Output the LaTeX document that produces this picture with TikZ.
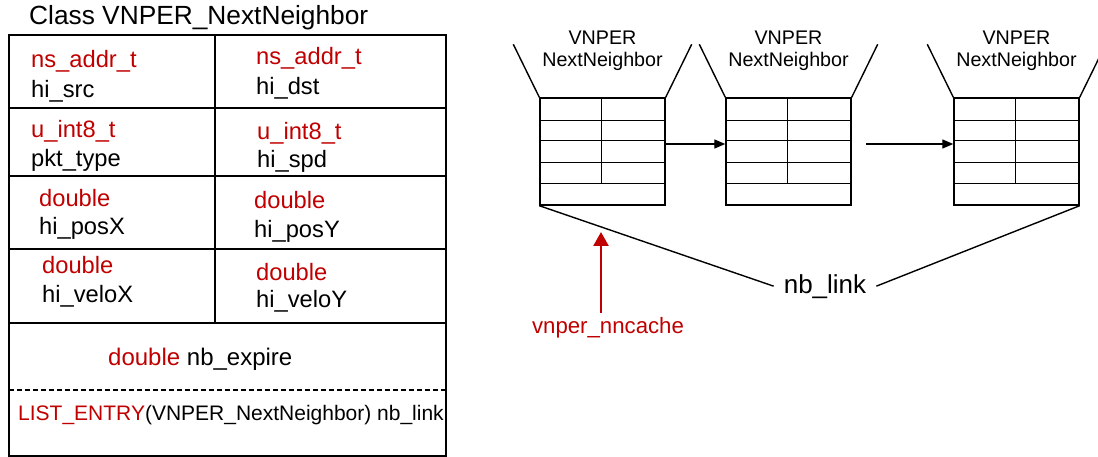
\documentclass[tikz,border=0pt]{standalone}
\usepackage{fontspec}
\setmainfont{Liberation Sans}
\usetikzlibrary{arrows.meta}
\definecolor{typered}{RGB}{192,0,0}
\begin{document}
\begin{tikzpicture}[x=1pt,y=-1pt,
  txt/.style={anchor=base west, inner sep=0pt, font=\fontsize{23.7}{28}\selectfont},
  ty/.style={txt, text=typered},
  grid/.style={line width=1.6pt, black},
  boxline/.style={line width=1.4pt, black},
  entry/.style={draw, line width=1.4pt, minimum width=125pt, minimum height=107pt, inner sep=0pt},
  lbl/.style={anchor=base, inner sep=0pt, font=\fontsize{19.7}{23}\selectfont},
  linkarrow/.style={line width=1.3pt, -{Triangle[length=11pt,width=9pt]}},
  cachearrow/.style={line width=2.6pt, typered, -{Triangle[length=14pt,width=15pt]}}]
\useasboundingbox (0,0) rectangle (1098,457);
\clip (0,0) rectangle (1098,457);

% ---- class layout ----
\node[txt, font=\fontsize{26.3}{31}\selectfont] (title) at (29,25) {Class VNPER\_NextNeighbor};
\draw[grid] (9,35) rectangle (446,456);
\foreach \y in {108,176,249,323} \draw[grid] (9,\y) -- (446,\y);
\draw[grid] (215,35) -- (215,323);
\draw[grid, dash pattern=on 5pt off 3pt] (9,390) -- (446,390);

\node[ty]  (t1) at (31,68)  {ns\_addr\_t};
\node[txt] (f1) at (31,98)  {hi\_src};
\node[ty]  (t2) at (256,65) {ns\_addr\_t};
\node[txt] (f2) at (256,95) {hi\_dst};
\node[ty]  (t3) at (31,138) {u\_int8\_t};
\node[txt] (f3) at (31,167) {pkt\_type};
\node[ty]  (t4) at (257,140) {u\_int8\_t};
\node[txt] (f4) at (257,168) {hi\_spd};
\node[ty]  (t5) at (39,207) {double};
\node[txt] (f5) at (39,235) {hi\_posX};
\node[ty]  (t6) at (254,209) {double};
\node[txt] (f6) at (254,238) {hi\_posY};
\node[ty]  (t7) at (42,273) {double};
\node[txt] (f7) at (42,302) {hi\_veloX};
\node[ty]  (t8) at (256,280) {double};
\node[txt] (f8) at (256,307) {hi\_veloY};
\node[txt, font=\fontsize{24}{28}\selectfont] (expire) at (108,365)
  {\textcolor{typered}{double} nb\_expire};
\node[txt, font=\fontsize{21}{25}\selectfont] (listentry) at (18,420)
  {\textcolor{typered}{LIST\_ENTRY}(VNPER\_NextNeighbor) nb\_link};

% ---- neighbour cache entries ----
\foreach \i/\x in {1/540,2/726,3/954} {
  \node[entry] (e\i) at (\x+62.5,151.5) {};
  \foreach \dy in {23,43,65,86}
    \draw[boxline] ([yshift=-\dy pt]e\i.north west) -- ([yshift=-\dy pt]e\i.north east);
  \draw[boxline] ([xshift=62pt]e\i.north west) -- ([xshift=62pt,yshift=-86pt]e\i.north west);
  \draw[boxline] (e\i.north west) -- ++(-26,-53);
  \draw[boxline] (e\i.north east) -- ++(26,-53);
  \node[lbl] (vn\i) at (\x+62.5,45) {VNPER};
  \node[lbl] (nn\i) at (\x+62.5,67) {NextNeighbor};
}

% ---- list links ----
\coordinate (gap) at (866,144);
\draw[linkarrow] ([yshift=7.5pt]e1.east) -- ([yshift=7.5pt]e2.west);
\draw[linkarrow] (gap) -- ([yshift=7.5pt]e3.west);

\node[anchor=base, inner xsep=10pt, inner ysep=0pt, font=\fontsize{26}{31}\selectfont] (nb) at (825,293) {nb\_link};
\draw[boxline] (e1.south west) -- (nb.west);
\draw[boxline] (e3.south east) -- (nb.east);

% ---- cache head pointer ----
\node[anchor=base, inner sep=0pt, text=typered, font=\fontsize{22.2}{26}\selectfont] (nc) at (608,333) {vnper\_nncache};
\coordinate (cachetip) at (601,232);
\draw[cachearrow] (nc.north -| cachetip) ++(0,-4) -- (cachetip);
\end{tikzpicture}
\end{document}
